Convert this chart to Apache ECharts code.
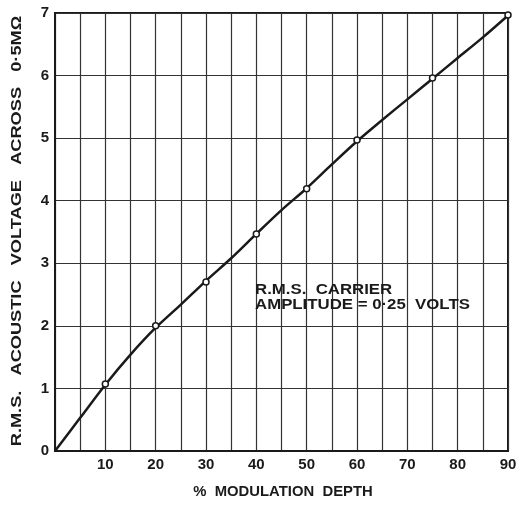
<!DOCTYPE html>
<html>
<head>
<meta charset="utf-8">
<script src="https://cdn.jsdelivr.net/npm/echarts@6/dist/echarts.min.js"></script>
<style>
  html, body { margin: 0; padding: 0; background: #fff; }
  #chart { width: 522px; height: 506px; }
</style>
</head>
<body>
<div id="chart"></div>
<script>
// measured points (% modulation depth, r.m.s. acoustic voltage)
const depth = [10, 20, 30, 40, 50, 60, 75, 90];
const voltage = [1.07, 2.0, 2.7, 3.47, 4.19, 4.97, 5.96, 6.97];
// the drawn curve, read at every grid line
const curveDepth = [0, 5, 10, 15, 20, 25, 30, 35, 40, 45, 50, 55, 60, 65, 70, 75, 80, 85, 90];
const curveVoltage = [0, 0.53, 1.06, 1.54, 1.97, 2.34, 2.72, 3.08, 3.47, 3.85, 4.2, 4.58,
  4.95, 5.29, 5.62, 5.95, 6.28, 6.61, 6.96];
const xTicks = [10, 20, 30, 40, 50, 60, 70, 80, 90];

const ink = '#1a1a1a';
const font = 'Liberation Sans, Arial, sans-serif';

let chart = echarts.init(document.getElementById('chart'));

// wide-set lettering like the original, done with a horizontal stretch
function label(text, x, y, opts) {
  return Object.assign({
    type: 'text', x: x, y: y, z: 10,
    style: {
      text: text, fill: ink, fontSize: 14, fontWeight: 'bold', fontFamily: font,
      align: 'center', verticalAlign: 'middle', lineHeight: 15
    }
  }, opts);
}

let option = {
  backgroundColor: '#fff',
  animation: false,
  grid: {
    left: 55, right: 14, top: 13, bottom: 55,
    show: true, borderColor: ink, borderWidth: 2
  },
  xAxis: {
    type: 'value', min: 0, max: 90, interval: 5,
    axisLine: { lineStyle: { color: ink, width: 2 } },
    axisTick: { show: false },
    axisLabel: {
      color: ink, fontSize: 15, fontWeight: 'bold', fontFamily: font, margin: 6,
      formatter: v => (xTicks.indexOf(v) >= 0 ? String(v) : '')
    },
    splitLine: { lineStyle: { color: '#333', width: 1.2 } }
  },
  yAxis: {
    type: 'value', min: 0, max: 7, interval: 1,
    axisLine: { lineStyle: { color: ink, width: 2 } },
    axisTick: { show: false },
    axisLabel: { color: ink, fontSize: 15, fontWeight: 'bold', fontFamily: font, margin: 6 },
    splitLine: { lineStyle: { color: '#333', width: 1.2 } }
  },
  series: [{
    type: 'line',
    data: curveDepth.map((d, i) => [d, curveVoltage[i]]),
    smooth: 0.3,
    showSymbol: false,
    lineStyle: { color: ink, width: 2.5 },
    z: 4
  }, {
    type: 'scatter',
    data: depth.map((d, i) => [d, voltage[i]]),
    symbolSize: 6,
    itemStyle: { color: '#fff', borderColor: ink, borderWidth: 1.5, opacity: 1 },
    z: 5
  }],
  graphic: [
    label('%  MODULATION  DEPTH', 283, 492, { scaleX: 1.06 }),
    label('R.M.S.   ACOUSTIC   VOLTAGE   ACROSS   0·5MΩ', 17, 231,
      { rotation: Math.PI / 2, scaleX: 1.3 }),
    {
      type: 'text', x: 255, y: 283, z: 10, scaleX: 1.2,
      style: {
        text: 'R.M.S.  CARRIER\nAMPLITUDE = 0·25  VOLTS',
        fill: ink, fontSize: 14, fontWeight: 'bold', fontFamily: font, lineHeight: 15
      }
    }
  ]
};

chart.setOption(option);
</script>
</body>
</html>
